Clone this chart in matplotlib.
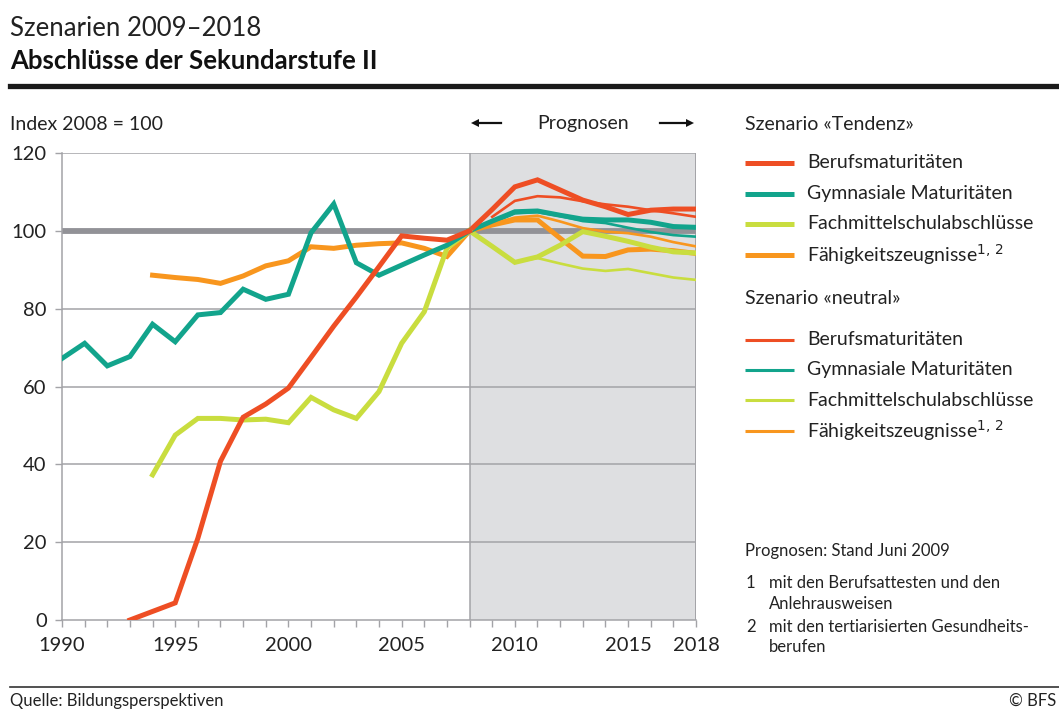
import numpy as np
import matplotlib
matplotlib.use("Agg")
import matplotlib.pyplot as plt
from matplotlib.lines import Line2D

plt.rcParams['font.family'] = ['Lato', 'DejaVu Sans']

# ---------------- data ----------------
years_hist = list(range(1990, 2009))
years_fc = list(range(2008, 2019))
nan = np.nan

# historical values (1990..2008)
beruf_hist = [nan, nan, nan, 0, 2.2, 4.4, 21, 40.8, 52.1, 55.5, 59.6, 67.5, 75.5, 83, 90.8, 98.7, 98.1, 97.6, 100]
gym_hist = [67.2, 71.1, 65.3, 67.7, 76.0, 71.5, 78.4, 79.0, 85.0, 82.4, 83.7, 99.5, 106.9, 91.8, 88.6, 91.2, 93.8, 96.3, 100]
fms_hist = [nan, nan, nan, nan, 37.3, 47.5, 51.8, 51.8, 51.4, 51.6, 50.7, 57.2, 54.0, 51.8, 58.7, 71.1, 79.2, 95.5, 100]
efz_hist = [nan, nan, nan, nan, 88.6, 88.0, 87.5, 86.5, 88.4, 91.0, 92.3, 95.9, 95.5, 96.3, 96.7, 96.9, 95.5, 93.4, 100]

# forecasts (2008..2018), scenario "Tendenz"
beruf_tend = [100, 105.5, 111.3, 113.1, 110.5, 107.9, 106.2, 104.2, 105.3, 105.6, 105.6]
gym_tend = [100, 102.5, 104.9, 105.1, 104.0, 103.0, 102.8, 102.8, 102.2, 101.1, 100.9]
fms_tend = [100, 96.0, 91.9, 93.3, 96.3, 99.8, 98.6, 97.3, 95.8, 94.6, 94.3]
efz_tend = [100, 101.5, 102.8, 102.8, 98.1, 93.5, 93.4, 95.1, 95.3, 94.9, 94.2]

# forecasts (2008..2018), scenario "neutral"
beruf_neut = [nan, 103.6, 107.7, 108.9, 108.6, 107.6, 106.8, 106.2, 105.3, 104.5, 103.6]
gym_neut = [100, 102.0, 104.5, 104.8, 103.8, 102.5, 102.0, 100.8, 99.7, 98.9, 98.5]
fms_neut = [100, 96.0, 92.0, 93.0, 91.6, 90.3, 89.7, 90.2, 89.1, 88.0, 87.4]
efz_neut = [100, 101.8, 103.4, 103.9, 102.4, 100.7, 99.8, 99.4, 98.5, 97.1, 96.0]

series_names = ["Berufsmaturitäten", "Gymnasiale Maturitäten",
                "Fachmittelschulabschlüsse", "Fähigkeitszeugnisse$^{1,\\,2}$"]
x_ticks = [1990, 1995, 2000, 2005, 2010, 2015, 2018]
y_ticks = [0, 20, 40, 60, 80, 100, 120]

# ---------------- style ----------------
C_RED = "#EE4E24"
C_TEAL = "#12A48C"
C_LIME = "#C9DD3F"
C_ORANGE = "#F8961E"
colors = [C_RED, C_TEAL, C_LIME, C_ORANGE]
GRID = "#A3A3A7"
SHADE = "#DEDFE1"
TXT = "#222222"

W, H = 1059, 709
fig = plt.figure(figsize=(W / 100, H / 100), dpi=100)

def fx(px):
    return px / W

def fy(py):
    return 1 - py / H

ax = fig.add_axes([fx(62), fy(620), fx(696) - fx(62), fy(153) - fy(620)])
ax.set_xlim(1990, 2018)
ax.set_ylim(0, 120)

# shading for forecasts
ax.axvspan(2008, 2018, color=SHADE, zorder=0, lw=0)
# grid
for v in y_ticks[1:]:
    ax.axhline(v, color=GRID, lw=1.1, zorder=1)
ax.axvline(2008, color=GRID, lw=1.1, zorder=1)
ax.axvline(2018, color=GRID, lw=1.4, zorder=1)
# reference line at 100
ax.plot([1990, 2018], [100, 100], color="#929297", lw=4.2, zorder=2, solid_capstyle="butt")

hist = [beruf_hist, gym_hist, fms_hist, efz_hist]
tend = [beruf_tend, gym_tend, fms_tend, efz_tend]
neut = [beruf_neut, gym_neut, fms_neut, efz_neut]

for i in range(4):
    ax.plot(years_fc, neut[i], color=colors[i], lw=1.9, zorder=3, solid_joinstyle="miter")
for i in [3, 2, 1, 0]:
    ax.plot(years_fc, tend[i], color=colors[i], lw=3.6, zorder=4, solid_joinstyle="miter")
for i in [3, 2, 1, 0]:
    ax.plot(years_hist, hist[i], color=colors[i], lw=3.6, zorder=4, solid_joinstyle="miter")

for s in ["top", "right"]:
    ax.spines[s].set_visible(False)
for s in ["left", "bottom"]:
    ax.spines[s].set_color(GRID)
    ax.spines[s].set_linewidth(1.1)
ax.set_xticks(x_ticks)
ax.set_xticks(range(1990, 2019), minor=True)
ax.set_yticks(y_ticks)
ax.tick_params(axis="both", which="both", color=GRID, width=1.0, length=5,
               labelsize=14.5, labelcolor=TXT)
ax.tick_params(axis="x", pad=7)
ax.tick_params(axis="y", pad=6)

# ---------------- texts ----------------
fig.text(fx(10), fy(28), "Szenarien 2009–2018", fontsize=18.5, color=TXT, va="center", ha="left")
fig.text(fx(10), fy(61), "Abschlüsse der Sekundarstufe II", fontsize=18.5, fontweight="bold",
         color="#111111", va="center", ha="left")
fig.add_artist(Line2D([fx(10), 1.0], [fy(86), fy(86)], color="#1a1a1a", lw=3.8))

fig.text(fx(10), fy(124), "Index 2008 = 100", fontsize=14, color=TXT, va="center", ha="left")
fig.text(fx(583), fy(124), "Prognosen", fontsize=14, color=TXT, va="center", ha="center")
ax_ar = fig.add_axes([0, 0, 1, 1], facecolor="none")
ax_ar.set_xlim(0, W)
ax_ar.set_ylim(H, 0)
ax_ar.axis("off")
ax_ar.plot([476, 501], [123, 123], color="#111111", lw=1.6)
ax_ar.plot([660, 688], [123, 123], color="#111111", lw=1.6)
ax_ar.plot([475], [123], marker="<", color="#111111", ms=6, mew=0)
ax_ar.plot([690], [123], marker=">", color="#111111", ms=6, mew=0)

# legend blocks
def legend_block(title, y_title, ys, lw):
    fig.text(fx(745), fy(y_title), title, fontsize=14, color=TXT, va="center", ha="left")
    for i, yy in enumerate(ys):
        fig.add_artist(Line2D([fx(745), fx(794)], [fy(yy), fy(yy)], color=colors[i], lw=lw,
                              solid_capstyle="butt"))
        fig.text(fx(807), fy(yy), series_names[i], fontsize=14, color=TXT,
                 va="center", ha="left")

legend_block("Szenario «Tendenz»", 125, [163, 194, 224, 255], 3.6)
legend_block("Szenario «neutral»", 298, [340, 370, 400, 431], 2.2)

FS = 12
fig.text(fx(745), fy(551), "Prognosen: Stand Juni 2009", fontsize=FS, color=TXT, va="center", ha="left")
fig.text(fx(746), fy(583), "1", fontsize=FS, color=TXT, va="center", ha="left")
fig.text(fx(769), fy(583), "mit den Berufsattesten und den", fontsize=FS, color=TXT, va="center", ha="left")
fig.text(fx(769), fy(604), "Anlehrausweisen", fontsize=FS, color=TXT, va="center", ha="left")
fig.text(fx(746), fy(627), "2", fontsize=FS, color=TXT, va="center", ha="left")
fig.text(fx(769), fy(627), "mit den tertiarisierten Gesundheits-", fontsize=FS, color=TXT, va="center", ha="left")
fig.text(fx(769), fy(647), "berufen", fontsize=FS, color=TXT, va="center", ha="left")

fig.add_artist(Line2D([fx(10), 1.0], [fy(687), fy(687)], color="#333333", lw=1.2))
fig.text(fx(10), fy(701), "Quelle: Bildungsperspektiven", fontsize=FS, color=TXT, va="center", ha="left")
fig.text(fx(1056), fy(701), "© BFS", fontsize=FS, color=TXT, va="center", ha="right")

fig.savefig("out.png", dpi=100)
